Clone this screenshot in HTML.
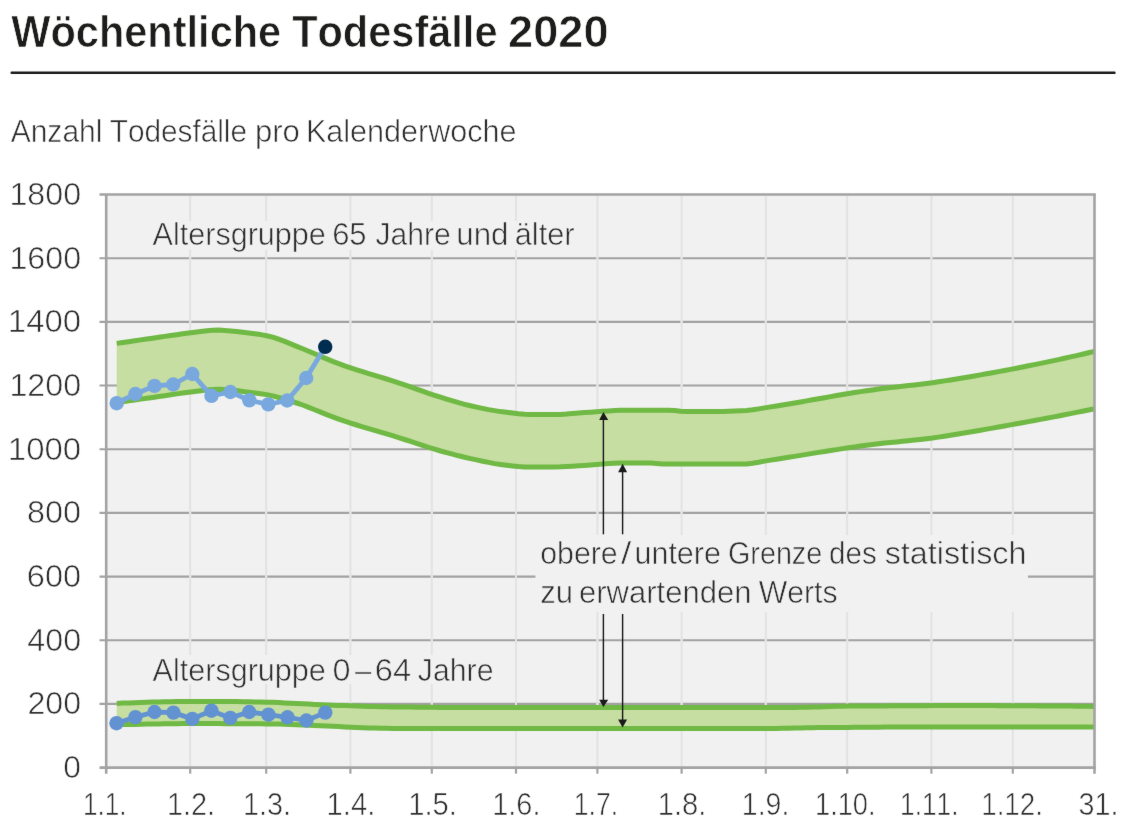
<!DOCTYPE html>
<html lang="de">
<head>
<meta charset="utf-8">
<title>Wöchentliche Todesfälle 2020</title>
<style>
html,body{margin:0;padding:0;background:#fff;}
body{width:1128px;height:834px;overflow:hidden;position:relative;font-family:"Liberation Sans",sans-serif;}
svg{position:absolute;left:0;top:0;display:block;}
text{font-family:"Liberation Sans",sans-serif;}
text{font-kerning:none;white-space:pre;}
.lbl{fill:#2e2e2e;stroke-width:0.6px;}
.ttl{font-weight:bold;fill:#1d1d1b;stroke-width:0.7px;}
</style>
</head>
<body>
<svg width="1128" height="834" viewBox="0 0 1128 834">
<defs><filter id="soft" x="0" y="0" width="1" height="1" filterUnits="objectBoundingBox" color-interpolation-filters="sRGB"><feConvolveMatrix order="3" kernelMatrix="0.00276 0.04704 0.00276 0.04704 0.80077 0.04704 0.00276 0.04704 0.00276" divisor="1" edgeMode="duplicate" preserveAlpha="true"/></filter></defs>
<g filter="url(#soft)">
<rect x="0" y="0" width="1128" height="834" fill="#ffffff"/>
<rect x="10.5" y="71.5" width="1105.1" height="2.55" rx="1" fill="#1d1d1b"/>
<text class="ttl" y="46.8" font-size="44.6" stroke="#ffffff"><tspan x="11.26" textLength="269.96" lengthAdjust="spacingAndGlyphs">Wöchentliche</tspan> <tspan x="292.13" textLength="205.39" lengthAdjust="spacingAndGlyphs">Todesfälle</tspan> <tspan x="508.03" textLength="100.52" lengthAdjust="spacingAndGlyphs">2020</tspan></text>
<text class="lbl" y="141.7" font-size="31" stroke="#ffffff"><tspan x="10.64" textLength="91.87" lengthAdjust="spacingAndGlyphs">Anzahl</tspan> <tspan x="109.73" textLength="137.29" lengthAdjust="spacingAndGlyphs">Todesfälle</tspan> <tspan x="254.90" textLength="44.91" lengthAdjust="spacingAndGlyphs">pro</tspan> <tspan x="305.89" textLength="210.66" lengthAdjust="spacingAndGlyphs">Kalenderwoche</tspan></text>
<rect x="106.2" y="194.5" width="988.3" height="573.1" fill="#f1f1f1"/>
<g stroke="#a2a2a2" stroke-width="2.1" fill="none">
<line x1="99.5" y1="703.9" x2="1094.5" y2="703.9"/>
<line x1="99.5" y1="640.2" x2="1094.5" y2="640.2"/>
<line x1="99.5" y1="576.6" x2="1094.5" y2="576.6"/>
<line x1="99.5" y1="512.9" x2="1094.5" y2="512.9"/>
<line x1="99.5" y1="449.2" x2="1094.5" y2="449.2"/>
<line x1="99.5" y1="385.5" x2="1094.5" y2="385.5"/>
<line x1="99.5" y1="321.9" x2="1094.5" y2="321.9"/>
<line x1="99.5" y1="258.2" x2="1094.5" y2="258.2"/>
</g>
<g stroke="#f1f1f1" stroke-width="2.0" fill="none">
<line x1="190.2" y1="196.0" x2="190.2" y2="766.1"/>
<line x1="266.2" y1="196.0" x2="266.2" y2="766.1"/>
<line x1="350.4" y1="196.0" x2="350.4" y2="766.1"/>
<line x1="431.8" y1="196.0" x2="431.8" y2="766.1"/>
<line x1="516.0" y1="196.0" x2="516.0" y2="766.1"/>
<line x1="597.4" y1="196.0" x2="597.4" y2="766.1"/>
<line x1="681.6" y1="196.0" x2="681.6" y2="766.1"/>
<line x1="765.8" y1="196.0" x2="765.8" y2="766.1"/>
<line x1="847.2" y1="196.0" x2="847.2" y2="766.1"/>
<line x1="931.4" y1="196.0" x2="931.4" y2="766.1"/>
<line x1="1012.8" y1="196.0" x2="1012.8" y2="766.1"/>
</g>
<g stroke="#e2e2e2" stroke-width="1.9" fill="none">
<line x1="190.2" y1="196.0" x2="190.2" y2="766.1"/>
<line x1="266.2" y1="196.0" x2="266.2" y2="766.1"/>
<line x1="350.4" y1="196.0" x2="350.4" y2="766.1"/>
<line x1="431.8" y1="196.0" x2="431.8" y2="766.1"/>
<line x1="516.0" y1="196.0" x2="516.0" y2="766.1"/>
<line x1="597.4" y1="196.0" x2="597.4" y2="766.1"/>
<line x1="681.6" y1="196.0" x2="681.6" y2="766.1"/>
<line x1="765.8" y1="196.0" x2="765.8" y2="766.1"/>
<line x1="847.2" y1="196.0" x2="847.2" y2="766.1"/>
<line x1="931.4" y1="196.0" x2="931.4" y2="766.1"/>
<line x1="1012.8" y1="196.0" x2="1012.8" y2="766.1"/>
</g>
<rect x="148" y="221" width="432" height="29" fill="#f1f1f1"/>
<rect x="148" y="655" width="350" height="29" fill="#f1f1f1"/>
<rect x="535.4" y="535" width="492.6" height="77" fill="#f1f1f1"/>
<polygon points="116.7,343.4 122.7,342.5 128.7,341.7 134.7,340.8 140.7,339.9 146.7,339.1 152.7,338.2 158.7,337.3 164.7,336.4 170.7,335.6 176.7,334.7 182.7,333.8 188.7,333.0 194.7,332.2 200.7,331.4 206.7,330.7 212.7,330.2 218.7,330.1 224.7,330.4 230.7,330.9 236.7,331.5 242.7,332.3 248.7,333.1 254.7,333.8 260.7,334.6 266.7,335.7 272.7,337.1 278.7,339.1 284.7,341.4 290.7,343.9 296.7,346.4 302.7,348.8 308.7,351.2 314.7,353.8 320.7,356.4 326.7,358.9 332.7,361.4 338.7,363.7 344.7,365.9 350.7,367.9 356.7,369.8 362.6,371.7 368.6,373.6 374.6,375.4 380.6,377.2 386.6,379.0 392.6,380.9 398.6,382.9 404.6,384.9 410.6,386.9 416.6,389.1 422.6,391.2 428.6,393.3 434.6,395.3 440.6,397.2 446.6,399.1 452.6,400.9 458.6,402.7 464.6,404.3 470.6,405.8 476.6,407.1 482.6,408.4 488.6,409.6 494.6,410.6 500.6,411.6 506.6,412.3 512.6,413.1 518.6,413.8 524.6,414.3 530.6,414.6 536.6,414.6 542.6,414.6 548.6,414.5 554.6,414.5 560.6,414.4 566.6,414.1 572.6,413.6 578.6,413.1 584.6,412.6 590.6,412.2 596.6,411.7 602.6,411.3 608.6,410.9 614.6,410.6 620.6,410.3 626.6,410.3 632.6,410.3 638.6,410.3 644.6,410.3 650.6,410.3 656.6,410.3 662.6,410.3 668.6,410.3 674.6,410.4 680.6,411.2 686.6,411.4 692.6,411.4 698.6,411.4 704.6,411.4 710.6,411.4 716.6,411.4 722.6,411.4 728.6,411.3 734.6,411.1 740.6,410.8 746.6,410.4 752.6,409.8 758.6,408.9 764.6,407.9 770.6,406.9 776.6,406.0 782.6,405.0 788.6,404.0 794.6,403.0 800.6,402.0 806.6,400.9 812.6,399.8 818.6,398.7 824.6,397.7 830.6,396.6 836.6,395.5 842.6,394.5 848.6,393.5 854.5,392.5 860.5,391.6 866.5,390.7 872.5,389.9 878.5,389.1 884.5,388.3 890.5,387.6 896.5,387.0 902.5,386.3 908.5,385.6 914.5,384.9 920.5,384.2 926.5,383.5 932.5,382.7 938.5,381.8 944.5,380.9 950.5,380.0 956.5,379.0 962.5,378.0 968.5,377.0 974.5,376.0 980.5,374.9 986.5,373.8 992.5,372.7 998.5,371.6 1004.5,370.5 1010.5,369.4 1016.5,368.2 1022.5,367.0 1028.5,365.8 1034.5,364.6 1040.5,363.4 1046.5,362.1 1052.5,360.9 1058.5,359.6 1064.5,358.3 1070.5,356.9 1076.5,355.6 1082.5,354.2 1088.5,352.8 1094.5,351.4 1094.5,408.8 1088.5,410.0 1082.5,411.2 1076.5,412.4 1070.5,413.6 1064.5,414.8 1058.5,416.0 1052.5,417.1 1046.5,418.3 1040.5,419.4 1034.5,420.5 1028.5,421.6 1022.5,422.7 1016.5,423.8 1010.5,424.9 1004.5,426.0 998.5,427.0 992.5,428.1 986.5,429.1 980.5,430.2 974.5,431.2 968.5,432.3 962.5,433.3 956.5,434.3 950.5,435.3 944.5,436.2 938.5,437.1 932.5,438.0 926.5,438.7 920.5,439.4 914.5,440.1 908.5,440.7 902.5,441.3 896.5,441.9 890.5,442.5 884.5,443.1 878.5,443.8 872.5,444.5 866.5,445.2 860.5,446.0 854.5,446.9 848.6,447.7 842.6,448.6 836.6,449.6 830.6,450.5 824.6,451.5 818.6,452.4 812.6,453.4 806.6,454.4 800.6,455.4 794.6,456.4 788.6,457.3 782.6,458.3 776.6,459.2 770.6,460.1 764.6,461.1 758.6,462.3 752.6,463.3 746.6,463.9 740.6,464.0 734.6,464.0 728.6,464.0 722.6,464.0 716.6,464.0 710.6,464.0 704.6,464.0 698.6,464.0 692.6,464.0 686.6,464.0 680.6,464.0 674.6,464.0 668.6,464.0 662.6,463.9 656.6,463.5 650.6,463.1 644.6,463.0 638.6,463.0 632.6,463.0 626.6,463.1 620.6,463.1 614.6,463.2 608.6,463.6 602.6,464.1 596.6,464.6 590.6,465.1 584.6,465.5 578.6,465.8 572.6,466.2 566.6,466.5 560.6,466.8 554.6,466.9 548.6,467.0 542.6,467.0 536.6,467.1 530.6,467.1 524.6,466.9 518.6,466.5 512.6,465.9 506.6,465.2 500.6,464.5 494.6,463.6 488.6,462.4 482.6,461.2 476.6,459.9 470.6,458.6 464.6,457.2 458.6,455.8 452.6,454.2 446.6,452.6 440.6,451.0 434.6,449.2 428.6,447.4 422.6,445.4 416.6,443.4 410.6,441.4 404.6,439.5 398.6,437.6 392.6,435.7 386.6,433.9 380.6,432.2 374.6,430.4 368.6,428.6 362.6,426.8 356.7,425.0 350.7,423.1 344.7,421.2 338.7,419.1 332.7,416.9 326.7,414.6 320.7,412.1 314.7,409.7 308.7,407.3 302.7,405.0 296.7,403.0 290.7,401.1 284.7,399.2 278.7,397.5 272.7,395.9 266.7,394.6 260.7,393.7 254.7,392.9 248.7,392.2 242.7,391.4 236.7,390.6 230.7,389.9 224.7,389.6 218.7,389.3 212.7,389.5 206.7,390.1 200.7,390.8 194.7,391.5 188.7,392.3 182.7,393.1 176.7,393.9 170.7,394.8 164.7,395.7 158.7,396.5 152.7,397.4 146.7,398.2 140.7,399.1 134.7,400.0 128.7,400.8 122.7,401.7 116.7,402.6" fill="#c6dea1"/>
<polyline points="116.7,343.4 122.7,342.5 128.7,341.7 134.7,340.8 140.7,339.9 146.7,339.1 152.7,338.2 158.7,337.3 164.7,336.4 170.7,335.6 176.7,334.7 182.7,333.8 188.7,333.0 194.7,332.2 200.7,331.4 206.7,330.7 212.7,330.2 218.7,330.1 224.7,330.4 230.7,330.9 236.7,331.5 242.7,332.3 248.7,333.1 254.7,333.8 260.7,334.6 266.7,335.7 272.7,337.1 278.7,339.1 284.7,341.4 290.7,343.9 296.7,346.4 302.7,348.8 308.7,351.2 314.7,353.8 320.7,356.4 326.7,358.9 332.7,361.4 338.7,363.7 344.7,365.9 350.7,367.9 356.7,369.8 362.6,371.7 368.6,373.6 374.6,375.4 380.6,377.2 386.6,379.0 392.6,380.9 398.6,382.9 404.6,384.9 410.6,386.9 416.6,389.1 422.6,391.2 428.6,393.3 434.6,395.3 440.6,397.2 446.6,399.1 452.6,400.9 458.6,402.7 464.6,404.3 470.6,405.8 476.6,407.1 482.6,408.4 488.6,409.6 494.6,410.6 500.6,411.6 506.6,412.3 512.6,413.1 518.6,413.8 524.6,414.3 530.6,414.6 536.6,414.6 542.6,414.6 548.6,414.5 554.6,414.5 560.6,414.4 566.6,414.1 572.6,413.6 578.6,413.1 584.6,412.6 590.6,412.2 596.6,411.7 602.6,411.3 608.6,410.9 614.6,410.6 620.6,410.3 626.6,410.3 632.6,410.3 638.6,410.3 644.6,410.3 650.6,410.3 656.6,410.3 662.6,410.3 668.6,410.3 674.6,410.4 680.6,411.2 686.6,411.4 692.6,411.4 698.6,411.4 704.6,411.4 710.6,411.4 716.6,411.4 722.6,411.4 728.6,411.3 734.6,411.1 740.6,410.8 746.6,410.4 752.6,409.8 758.6,408.9 764.6,407.9 770.6,406.9 776.6,406.0 782.6,405.0 788.6,404.0 794.6,403.0 800.6,402.0 806.6,400.9 812.6,399.8 818.6,398.7 824.6,397.7 830.6,396.6 836.6,395.5 842.6,394.5 848.6,393.5 854.5,392.5 860.5,391.6 866.5,390.7 872.5,389.9 878.5,389.1 884.5,388.3 890.5,387.6 896.5,387.0 902.5,386.3 908.5,385.6 914.5,384.9 920.5,384.2 926.5,383.5 932.5,382.7 938.5,381.8 944.5,380.9 950.5,380.0 956.5,379.0 962.5,378.0 968.5,377.0 974.5,376.0 980.5,374.9 986.5,373.8 992.5,372.7 998.5,371.6 1004.5,370.5 1010.5,369.4 1016.5,368.2 1022.5,367.0 1028.5,365.8 1034.5,364.6 1040.5,363.4 1046.5,362.1 1052.5,360.9 1058.5,359.6 1064.5,358.3 1070.5,356.9 1076.5,355.6 1082.5,354.2 1088.5,352.8 1094.5,351.4" fill="none" stroke="#6fb944" stroke-width="5.0" stroke-linejoin="round"/>
<polyline points="116.7,402.6 122.7,401.7 128.7,400.8 134.7,400.0 140.7,399.1 146.7,398.2 152.7,397.4 158.7,396.5 164.7,395.7 170.7,394.8 176.7,393.9 182.7,393.1 188.7,392.3 194.7,391.5 200.7,390.8 206.7,390.1 212.7,389.5 218.7,389.3 224.7,389.6 230.7,389.9 236.7,390.6 242.7,391.4 248.7,392.2 254.7,392.9 260.7,393.7 266.7,394.6 272.7,395.9 278.7,397.5 284.7,399.2 290.7,401.1 296.7,403.0 302.7,405.0 308.7,407.3 314.7,409.7 320.7,412.1 326.7,414.6 332.7,416.9 338.7,419.1 344.7,421.2 350.7,423.1 356.7,425.0 362.6,426.8 368.6,428.6 374.6,430.4 380.6,432.2 386.6,433.9 392.6,435.7 398.6,437.6 404.6,439.5 410.6,441.4 416.6,443.4 422.6,445.4 428.6,447.4 434.6,449.2 440.6,451.0 446.6,452.6 452.6,454.2 458.6,455.8 464.6,457.2 470.6,458.6 476.6,459.9 482.6,461.2 488.6,462.4 494.6,463.6 500.6,464.5 506.6,465.2 512.6,465.9 518.6,466.5 524.6,466.9 530.6,467.1 536.6,467.1 542.6,467.0 548.6,467.0 554.6,466.9 560.6,466.8 566.6,466.5 572.6,466.2 578.6,465.8 584.6,465.5 590.6,465.1 596.6,464.6 602.6,464.1 608.6,463.6 614.6,463.2 620.6,463.1 626.6,463.1 632.6,463.0 638.6,463.0 644.6,463.0 650.6,463.1 656.6,463.5 662.6,463.9 668.6,464.0 674.6,464.0 680.6,464.0 686.6,464.0 692.6,464.0 698.6,464.0 704.6,464.0 710.6,464.0 716.6,464.0 722.6,464.0 728.6,464.0 734.6,464.0 740.6,464.0 746.6,463.9 752.6,463.3 758.6,462.3 764.6,461.1 770.6,460.1 776.6,459.2 782.6,458.3 788.6,457.3 794.6,456.4 800.6,455.4 806.6,454.4 812.6,453.4 818.6,452.4 824.6,451.5 830.6,450.5 836.6,449.6 842.6,448.6 848.6,447.7 854.5,446.9 860.5,446.0 866.5,445.2 872.5,444.5 878.5,443.8 884.5,443.1 890.5,442.5 896.5,441.9 902.5,441.3 908.5,440.7 914.5,440.1 920.5,439.4 926.5,438.7 932.5,438.0 938.5,437.1 944.5,436.2 950.5,435.3 956.5,434.3 962.5,433.3 968.5,432.3 974.5,431.2 980.5,430.2 986.5,429.1 992.5,428.1 998.5,427.0 1004.5,426.0 1010.5,424.9 1016.5,423.8 1022.5,422.7 1028.5,421.6 1034.5,420.5 1040.5,419.4 1046.5,418.3 1052.5,417.1 1058.5,416.0 1064.5,414.8 1070.5,413.6 1076.5,412.4 1082.5,411.2 1088.5,410.0 1094.5,408.8" fill="none" stroke="#6fb944" stroke-width="5.0" stroke-linejoin="round"/>
<polygon points="116.7,703.4 122.7,703.1 128.7,702.9 134.7,702.7 140.7,702.5 146.7,702.3 152.7,702.1 158.7,702.0 164.7,701.8 170.7,701.7 176.7,701.6 182.7,701.5 188.7,701.5 194.7,701.4 200.7,701.4 206.7,701.4 212.7,701.4 218.7,701.4 224.7,701.5 230.7,701.6 236.7,701.6 242.7,701.7 248.7,701.8 254.7,701.9 260.7,702.0 266.7,702.2 272.7,702.3 278.7,702.6 284.7,702.9 290.7,703.2 296.7,703.5 302.7,703.8 308.7,704.1 314.7,704.4 320.7,704.7 326.7,704.9 332.7,705.2 338.7,705.4 344.7,705.6 350.7,705.8 356.7,706.0 362.6,706.2 368.6,706.4 374.6,706.5 380.6,706.7 386.6,706.8 392.6,706.9 398.6,707.0 404.6,707.1 410.6,707.1 416.6,707.2 422.6,707.3 428.6,707.3 434.6,707.3 440.6,707.4 446.6,707.4 452.6,707.4 458.6,707.4 464.6,707.4 470.6,707.4 476.6,707.4 482.6,707.4 488.6,707.4 494.6,707.4 500.6,707.4 506.6,707.4 512.6,707.4 518.6,707.4 524.6,707.4 530.6,707.4 536.6,707.4 542.6,707.4 548.6,707.4 554.6,707.4 560.6,707.4 566.6,707.4 572.6,707.4 578.6,707.4 584.6,707.4 590.6,707.4 596.6,707.4 602.6,707.4 608.6,707.4 614.6,707.4 620.6,707.4 626.6,707.4 632.6,707.4 638.6,707.4 644.6,707.4 650.6,707.4 656.6,707.4 662.6,707.4 668.6,707.4 674.6,707.4 680.6,707.4 686.6,707.4 692.6,707.4 698.6,707.4 704.6,707.4 710.6,707.4 716.6,707.4 722.6,707.4 728.6,707.4 734.6,707.4 740.6,707.4 746.6,707.4 752.6,707.4 758.6,707.4 764.6,707.4 770.6,707.4 776.6,707.4 782.6,707.4 788.6,707.4 794.6,707.4 800.6,707.3 806.6,707.2 812.6,707.0 818.6,706.9 824.6,706.7 830.6,706.5 836.6,706.3 842.6,706.2 848.6,706.1 854.5,706.1 860.5,706.0 866.5,706.0 872.5,705.9 878.5,705.9 884.5,705.9 890.5,705.8 896.5,705.8 902.5,705.8 908.5,705.7 914.5,705.7 920.5,705.7 926.5,705.7 932.5,705.6 938.5,705.6 944.5,705.6 950.5,705.6 956.5,705.6 962.5,705.6 968.5,705.6 974.5,705.6 980.5,705.6 986.5,705.6 992.5,705.6 998.5,705.7 1004.5,705.7 1010.5,705.7 1016.5,705.7 1022.5,705.8 1028.5,705.8 1034.5,705.8 1040.5,705.9 1046.5,705.9 1052.5,706.0 1058.5,706.0 1064.5,706.1 1070.5,706.1 1076.5,706.2 1082.5,706.3 1088.5,706.3 1094.5,706.4 1094.5,727.0 1088.5,727.0 1082.5,727.0 1076.5,727.0 1070.5,727.0 1064.5,726.9 1058.5,726.9 1052.5,726.9 1046.5,726.9 1040.5,726.9 1034.5,726.9 1028.5,726.9 1022.5,726.9 1016.5,726.9 1010.5,726.9 1004.5,726.9 998.5,726.9 992.5,726.9 986.5,726.9 980.5,726.9 974.5,726.9 968.5,726.9 962.5,726.9 956.5,726.9 950.5,726.9 944.5,726.9 938.5,726.9 932.5,726.9 926.5,727.0 920.5,727.0 914.5,727.0 908.5,727.0 902.5,727.0 896.5,727.1 890.5,727.1 884.5,727.1 878.5,727.2 872.5,727.2 866.5,727.2 860.5,727.3 854.5,727.3 848.6,727.4 842.6,727.4 836.6,727.5 830.6,727.5 824.6,727.6 818.6,727.6 812.6,727.7 806.6,727.8 800.6,727.9 794.6,728.1 788.6,728.2 782.6,728.3 776.6,728.4 770.6,728.4 764.6,728.4 758.6,728.4 752.6,728.4 746.6,728.4 740.6,728.4 734.6,728.4 728.6,728.4 722.6,728.4 716.6,728.4 710.6,728.4 704.6,728.4 698.6,728.4 692.6,728.4 686.6,728.4 680.6,728.4 674.6,728.4 668.6,728.4 662.6,728.4 656.6,728.4 650.6,728.4 644.6,728.4 638.6,728.4 632.6,728.4 626.6,728.4 620.6,728.4 614.6,728.4 608.6,728.4 602.6,728.4 596.6,728.4 590.6,728.4 584.6,728.4 578.6,728.4 572.6,728.4 566.6,728.4 560.6,728.4 554.6,728.4 548.6,728.4 542.6,728.4 536.6,728.4 530.6,728.4 524.6,728.4 518.6,728.4 512.6,728.4 506.6,728.4 500.6,728.4 494.6,728.4 488.6,728.4 482.6,728.4 476.6,728.4 470.6,728.4 464.6,728.4 458.6,728.4 452.6,728.4 446.6,728.4 440.6,728.4 434.6,728.4 428.6,728.4 422.6,728.4 416.6,728.4 410.6,728.4 404.6,728.4 398.6,728.4 392.6,728.4 386.6,728.3 380.6,728.2 374.6,728.0 368.6,727.9 362.6,727.7 356.7,727.5 350.7,727.2 344.7,726.9 338.7,726.6 332.7,726.3 326.7,726.0 320.7,725.8 314.7,725.5 308.7,725.3 302.7,725.0 296.7,724.8 290.7,724.5 284.7,724.3 278.7,724.1 272.7,724.0 266.7,723.9 260.7,723.8 254.7,723.8 248.7,723.7 242.7,723.7 236.7,723.7 230.7,723.7 224.7,723.7 218.7,723.6 212.7,723.6 206.7,723.6 200.7,723.6 194.7,723.6 188.7,723.6 182.7,723.6 176.7,723.7 170.7,723.7 164.7,723.8 158.7,723.9 152.7,724.0 146.7,724.1 140.7,724.2 134.7,724.4 128.7,724.5 122.7,724.6 116.7,724.8" fill="#c6dea1"/>
<polyline points="116.7,703.4 122.7,703.1 128.7,702.9 134.7,702.7 140.7,702.5 146.7,702.3 152.7,702.1 158.7,702.0 164.7,701.8 170.7,701.7 176.7,701.6 182.7,701.5 188.7,701.5 194.7,701.4 200.7,701.4 206.7,701.4 212.7,701.4 218.7,701.4 224.7,701.5 230.7,701.6 236.7,701.6 242.7,701.7 248.7,701.8 254.7,701.9 260.7,702.0 266.7,702.2 272.7,702.3 278.7,702.6 284.7,702.9 290.7,703.2 296.7,703.5 302.7,703.8 308.7,704.1 314.7,704.4 320.7,704.7 326.7,704.9 332.7,705.2 338.7,705.4 344.7,705.6 350.7,705.8 356.7,706.0 362.6,706.2 368.6,706.4 374.6,706.5 380.6,706.7 386.6,706.8 392.6,706.9 398.6,707.0 404.6,707.1 410.6,707.1 416.6,707.2 422.6,707.3 428.6,707.3 434.6,707.3 440.6,707.4 446.6,707.4 452.6,707.4 458.6,707.4 464.6,707.4 470.6,707.4 476.6,707.4 482.6,707.4 488.6,707.4 494.6,707.4 500.6,707.4 506.6,707.4 512.6,707.4 518.6,707.4 524.6,707.4 530.6,707.4 536.6,707.4 542.6,707.4 548.6,707.4 554.6,707.4 560.6,707.4 566.6,707.4 572.6,707.4 578.6,707.4 584.6,707.4 590.6,707.4 596.6,707.4 602.6,707.4 608.6,707.4 614.6,707.4 620.6,707.4 626.6,707.4 632.6,707.4 638.6,707.4 644.6,707.4 650.6,707.4 656.6,707.4 662.6,707.4 668.6,707.4 674.6,707.4 680.6,707.4 686.6,707.4 692.6,707.4 698.6,707.4 704.6,707.4 710.6,707.4 716.6,707.4 722.6,707.4 728.6,707.4 734.6,707.4 740.6,707.4 746.6,707.4 752.6,707.4 758.6,707.4 764.6,707.4 770.6,707.4 776.6,707.4 782.6,707.4 788.6,707.4 794.6,707.4 800.6,707.3 806.6,707.2 812.6,707.0 818.6,706.9 824.6,706.7 830.6,706.5 836.6,706.3 842.6,706.2 848.6,706.1 854.5,706.1 860.5,706.0 866.5,706.0 872.5,705.9 878.5,705.9 884.5,705.9 890.5,705.8 896.5,705.8 902.5,705.8 908.5,705.7 914.5,705.7 920.5,705.7 926.5,705.7 932.5,705.6 938.5,705.6 944.5,705.6 950.5,705.6 956.5,705.6 962.5,705.6 968.5,705.6 974.5,705.6 980.5,705.6 986.5,705.6 992.5,705.6 998.5,705.7 1004.5,705.7 1010.5,705.7 1016.5,705.7 1022.5,705.8 1028.5,705.8 1034.5,705.8 1040.5,705.9 1046.5,705.9 1052.5,706.0 1058.5,706.0 1064.5,706.1 1070.5,706.1 1076.5,706.2 1082.5,706.3 1088.5,706.3 1094.5,706.4" fill="none" stroke="#6fb944" stroke-width="5.0" stroke-linejoin="round"/>
<polyline points="116.7,724.8 122.7,724.6 128.7,724.5 134.7,724.4 140.7,724.2 146.7,724.1 152.7,724.0 158.7,723.9 164.7,723.8 170.7,723.7 176.7,723.7 182.7,723.6 188.7,723.6 194.7,723.6 200.7,723.6 206.7,723.6 212.7,723.6 218.7,723.6 224.7,723.7 230.7,723.7 236.7,723.7 242.7,723.7 248.7,723.7 254.7,723.8 260.7,723.8 266.7,723.9 272.7,724.0 278.7,724.1 284.7,724.3 290.7,724.5 296.7,724.8 302.7,725.0 308.7,725.3 314.7,725.5 320.7,725.8 326.7,726.0 332.7,726.3 338.7,726.6 344.7,726.9 350.7,727.2 356.7,727.5 362.6,727.7 368.6,727.9 374.6,728.0 380.6,728.2 386.6,728.3 392.6,728.4 398.6,728.4 404.6,728.4 410.6,728.4 416.6,728.4 422.6,728.4 428.6,728.4 434.6,728.4 440.6,728.4 446.6,728.4 452.6,728.4 458.6,728.4 464.6,728.4 470.6,728.4 476.6,728.4 482.6,728.4 488.6,728.4 494.6,728.4 500.6,728.4 506.6,728.4 512.6,728.4 518.6,728.4 524.6,728.4 530.6,728.4 536.6,728.4 542.6,728.4 548.6,728.4 554.6,728.4 560.6,728.4 566.6,728.4 572.6,728.4 578.6,728.4 584.6,728.4 590.6,728.4 596.6,728.4 602.6,728.4 608.6,728.4 614.6,728.4 620.6,728.4 626.6,728.4 632.6,728.4 638.6,728.4 644.6,728.4 650.6,728.4 656.6,728.4 662.6,728.4 668.6,728.4 674.6,728.4 680.6,728.4 686.6,728.4 692.6,728.4 698.6,728.4 704.6,728.4 710.6,728.4 716.6,728.4 722.6,728.4 728.6,728.4 734.6,728.4 740.6,728.4 746.6,728.4 752.6,728.4 758.6,728.4 764.6,728.4 770.6,728.4 776.6,728.4 782.6,728.3 788.6,728.2 794.6,728.1 800.6,727.9 806.6,727.8 812.6,727.7 818.6,727.6 824.6,727.6 830.6,727.5 836.6,727.5 842.6,727.4 848.6,727.4 854.5,727.3 860.5,727.3 866.5,727.2 872.5,727.2 878.5,727.2 884.5,727.1 890.5,727.1 896.5,727.1 902.5,727.0 908.5,727.0 914.5,727.0 920.5,727.0 926.5,727.0 932.5,726.9 938.5,726.9 944.5,726.9 950.5,726.9 956.5,726.9 962.5,726.9 968.5,726.9 974.5,726.9 980.5,726.9 986.5,726.9 992.5,726.9 998.5,726.9 1004.5,726.9 1010.5,726.9 1016.5,726.9 1022.5,726.9 1028.5,726.9 1034.5,726.9 1040.5,726.9 1046.5,726.9 1052.5,726.9 1058.5,726.9 1064.5,726.9 1070.5,727.0 1076.5,727.0 1082.5,727.0 1088.5,727.0 1094.5,727.0" fill="none" stroke="#6fb944" stroke-width="5.0" stroke-linejoin="round"/>
<g stroke="#a3a3a3" stroke-width="2.6" fill="none">
<line x1="99.5" y1="194.5" x2="1095.8" y2="194.5"/>
<line x1="99.5" y1="767.6" x2="1095.8" y2="767.6"/>
<line x1="106.2" y1="194.5" x2="106.2" y2="773.7"/>
<line x1="1094.5" y1="194.5" x2="1094.5" y2="773.7"/>
</g>
<g stroke="#a3a3a3" stroke-width="2.2" fill="none">
<line x1="190.2" y1="767.6" x2="190.2" y2="773.7"/>
<line x1="266.2" y1="767.6" x2="266.2" y2="773.7"/>
<line x1="350.4" y1="767.6" x2="350.4" y2="773.7"/>
<line x1="431.8" y1="767.6" x2="431.8" y2="773.7"/>
<line x1="516.0" y1="767.6" x2="516.0" y2="773.7"/>
<line x1="597.4" y1="767.6" x2="597.4" y2="773.7"/>
<line x1="681.6" y1="767.6" x2="681.6" y2="773.7"/>
<line x1="765.8" y1="767.6" x2="765.8" y2="773.7"/>
<line x1="847.2" y1="767.6" x2="847.2" y2="773.7"/>
<line x1="931.4" y1="767.6" x2="931.4" y2="773.7"/>
<line x1="1012.8" y1="767.6" x2="1012.8" y2="773.7"/>
</g>
<g stroke="#1a1a1a" stroke-width="1.45" fill="none">
<line x1="603.4" y1="418" x2="603.4" y2="534.3"/>
<line x1="622.6" y1="470" x2="622.6" y2="534.3"/>
<line x1="603.4" y1="614" x2="603.4" y2="701"/>
<line x1="622.6" y1="614" x2="622.6" y2="721"/>
</g>
<g fill="#1a1a1a">
<polygon points="603.4,411.9 608.2,419.9 599.2,419.9"/>
<polygon points="622.6,463.8 627.1,472.3 618.1,472.3"/>
<polygon points="603.4,707.1 608.2,699.7 599.2,699.7"/>
<polygon points="622.6,727.6 627.1,719.6 618.1,719.6"/>
</g>
<polyline points="116.7,403.2 135.4,394.0 154.5,385.9 173.2,384.5 192.3,374.0 211.5,395.8 230.4,392.0 249.3,400.3 268.3,404.4 287.2,400.5 306.2,378.0 325.2,346.8" fill="none" stroke="#78a8de" stroke-width="4.8" stroke-linejoin="round"/>
<circle cx="116.7" cy="403.2" r="7.2" fill="#78a8de"/>
<circle cx="135.4" cy="394.0" r="7.2" fill="#78a8de"/>
<circle cx="154.5" cy="385.9" r="7.2" fill="#78a8de"/>
<circle cx="173.2" cy="384.5" r="7.2" fill="#78a8de"/>
<circle cx="192.3" cy="374.0" r="7.2" fill="#78a8de"/>
<circle cx="211.5" cy="395.8" r="7.2" fill="#78a8de"/>
<circle cx="230.4" cy="392.0" r="7.2" fill="#78a8de"/>
<circle cx="249.3" cy="400.3" r="7.2" fill="#78a8de"/>
<circle cx="268.3" cy="404.4" r="7.2" fill="#78a8de"/>
<circle cx="287.2" cy="400.5" r="7.2" fill="#78a8de"/>
<circle cx="306.2" cy="378.0" r="7.2" fill="#78a8de"/>
<circle cx="325.2" cy="346.8" r="7.2" fill="#002c50"/>
<polyline points="116.5,723.2 135.4,717.1 154.5,712.0 173.4,712.6 192.3,718.9 211.4,710.7 230.3,717.9 249.2,712.0 268.4,714.7 287.5,717.3 306.4,720.5 325.3,712.6" fill="none" stroke="#6292d1" stroke-width="4.8" stroke-linejoin="round"/>
<circle cx="116.5" cy="723.2" r="7.2" fill="#6292d1"/>
<circle cx="135.4" cy="717.1" r="7.2" fill="#6292d1"/>
<circle cx="154.5" cy="712.0" r="7.2" fill="#6292d1"/>
<circle cx="173.4" cy="712.6" r="7.2" fill="#6292d1"/>
<circle cx="192.3" cy="718.9" r="7.2" fill="#6292d1"/>
<circle cx="211.4" cy="710.7" r="7.2" fill="#6292d1"/>
<circle cx="230.3" cy="717.9" r="7.2" fill="#6292d1"/>
<circle cx="249.2" cy="712.0" r="7.2" fill="#6292d1"/>
<circle cx="268.4" cy="714.7" r="7.2" fill="#6292d1"/>
<circle cx="287.5" cy="717.3" r="7.2" fill="#6292d1"/>
<circle cx="306.4" cy="720.5" r="7.2" fill="#6292d1"/>
<circle cx="325.3" cy="712.6" r="7.2" fill="#6292d1"/>
<text class="lbl" y="245.4" font-size="31" stroke="#f1f1f1"><tspan x="152.54" textLength="173.32" lengthAdjust="spacingAndGlyphs">Altersgruppe</tspan> <tspan x="332.13" textLength="34.48" lengthAdjust="spacingAndGlyphs">65</tspan> <tspan x="375.43" textLength="75.21" lengthAdjust="spacingAndGlyphs">Jahre</tspan> <tspan x="456.27" textLength="52.14" lengthAdjust="spacingAndGlyphs">und</tspan> <tspan x="514.69" textLength="59.92" lengthAdjust="spacingAndGlyphs">älter</tspan></text>
<text class="lbl" y="680.5" font-size="31" stroke="#f1f1f1"><tspan x="152.54" textLength="173.32" lengthAdjust="spacingAndGlyphs">Altersgruppe</tspan> <tspan x="332.43" textLength="18.03" lengthAdjust="spacingAndGlyphs">0</tspan> <tspan x="355.10" textLength="16.31" lengthAdjust="spacingAndGlyphs">–</tspan> <tspan x="374.85" textLength="36.21" lengthAdjust="spacingAndGlyphs">64</tspan> <tspan x="417.83" textLength="75.62" lengthAdjust="spacingAndGlyphs">Jahre</tspan></text>
<text class="lbl" y="564.3" font-size="31" stroke="#f1f1f1"><tspan x="540.23" textLength="77.52" lengthAdjust="spacingAndGlyphs">obere</tspan> <tspan x="621.10" textLength="10.30" lengthAdjust="spacingAndGlyphs">/</tspan> <tspan x="634.52" textLength="86.33" lengthAdjust="spacingAndGlyphs">untere</tspan> <tspan x="727.95" textLength="94.32" lengthAdjust="spacingAndGlyphs">Grenze</tspan> <tspan x="829.06" textLength="47.71" lengthAdjust="spacingAndGlyphs">des</tspan> <tspan x="884.70" textLength="141.80" lengthAdjust="spacingAndGlyphs">statistisch</tspan></text>
<text class="lbl" y="602.5" font-size="31" stroke="#f1f1f1"><tspan x="540.24" textLength="32.82" lengthAdjust="spacingAndGlyphs">zu</tspan> <tspan x="578.98" textLength="172.53" lengthAdjust="spacingAndGlyphs">erwartenden</tspan> <tspan x="758.77" textLength="78.82" lengthAdjust="spacingAndGlyphs">Werts</tspan></text>
<g class="lbl" font-size="31" stroke="#ffffff">
<text y="204.8"><tspan x="9.44" textLength="71.71" lengthAdjust="spacingAndGlyphs">1800</tspan></text>
<text y="268.5"><tspan x="9.44" textLength="71.71" lengthAdjust="spacingAndGlyphs">1600</tspan></text>
<text y="332.2"><tspan x="7.89" textLength="73.30" lengthAdjust="spacingAndGlyphs">1400</tspan></text>
<text y="395.9"><tspan x="9.44" textLength="71.71" lengthAdjust="spacingAndGlyphs">1200</tspan></text>
<text y="459.6"><tspan x="7.89" textLength="73.30" lengthAdjust="spacingAndGlyphs">1000</tspan></text>
<text y="523.3"><tspan x="27.09" textLength="54.07" lengthAdjust="spacingAndGlyphs">800</tspan></text>
<text y="586.9"><tspan x="26.85" textLength="54.33" lengthAdjust="spacingAndGlyphs">600</tspan></text>
<text y="650.6"><tspan x="27.36" textLength="53.80" lengthAdjust="spacingAndGlyphs">400</tspan></text>
<text y="714.3"><tspan x="27.48" textLength="53.67" lengthAdjust="spacingAndGlyphs">200</tspan></text>
<text y="777.6"><tspan x="63.36" textLength="17.68" lengthAdjust="spacingAndGlyphs">0</tspan></text>
</g>
<g class="lbl" font-size="31" stroke="#ffffff">
<text y="814.6"><tspan x="83.01" textLength="43.58" lengthAdjust="spacingAndGlyphs">1.1.</tspan></text>
<text y="814.6"><tspan x="166.90" textLength="48.24" lengthAdjust="spacingAndGlyphs">1.2.</tspan></text>
<text y="814.6"><tspan x="243.00" textLength="48.13" lengthAdjust="spacingAndGlyphs">1.3.</tspan></text>
<text y="814.6"><tspan x="326.58" textLength="48.69" lengthAdjust="spacingAndGlyphs">1.4.</tspan></text>
<text y="814.6"><tspan x="408.18" textLength="48.69" lengthAdjust="spacingAndGlyphs">1.5.</tspan></text>
<text y="814.6"><tspan x="492.30" textLength="48.13" lengthAdjust="spacingAndGlyphs">1.6.</tspan></text>
<text y="814.6"><tspan x="573.78" textLength="44.24" lengthAdjust="spacingAndGlyphs">1.7.</tspan></text>
<text y="814.6"><tspan x="657.68" textLength="48.69" lengthAdjust="spacingAndGlyphs">1.8.</tspan></text>
<text y="814.6"><tspan x="741.83" textLength="47.47" lengthAdjust="spacingAndGlyphs">1.9.</tspan></text>
<text y="814.6"><tspan x="815.03" textLength="60.56" lengthAdjust="spacingAndGlyphs">1.10.</tspan></text>
<text y="814.6"><tspan x="900.10" textLength="58.40" lengthAdjust="spacingAndGlyphs">1.11.</tspan></text>
<text y="814.6"><tspan x="981.19" textLength="61.75" lengthAdjust="spacingAndGlyphs">1.12.</tspan></text>
<text y="814.6"><tspan x="1078.51" textLength="39.92" lengthAdjust="spacingAndGlyphs">31.</tspan></text>
</g>
</g>
</svg>
</body>
</html>
